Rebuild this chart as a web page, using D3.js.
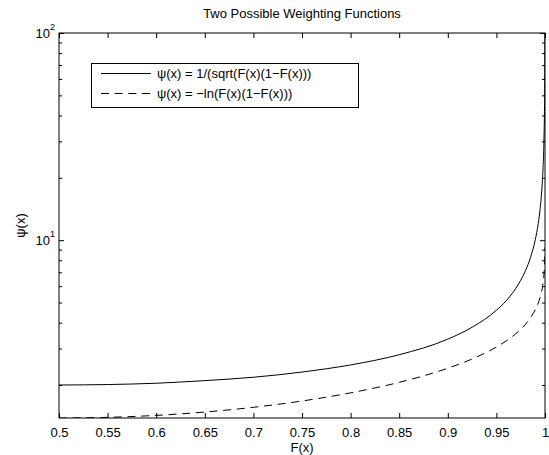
<!DOCTYPE html>
<html>
<head>
<meta charset="utf-8">
<script src="https://cdn.jsdelivr.net/npm/d3@7"></script>
<style>
  body { margin: 0; background: #fff; }
  svg { display: block; font-family: "Liberation Sans", Arial, sans-serif; }
  .domain { display: none; }
  .tick line { stroke: #000; }
  .tick text { font-size: 13px; fill: #000; }
</style>
</head>
<body>
<div id="chart"></div>
<script>
// values
const fValues = [0.5, 0.55, 0.6, 0.65, 0.7, 0.75, 0.8, 0.85, 0.9, 0.925, 0.95, 0.96, 0.97, 0.98,
  0.985, 0.99, 0.993, 0.995, 0.997, 0.998, 0.999, 0.9995, 0.9998, 0.9999];
const psiSqrt = [2.0, 2.01, 2.04, 2.10, 2.18, 2.31, 2.5, 2.8, 3.33, 3.8, 4.59, 5.1, 5.86, 7.14,
  8.23, 10.05, 12.0, 14.2, 18.3, 22.4, 31.6, 44.7, 70.7, 100];
const psiLog = [1.386, 1.396, 1.427, 1.481, 1.561, 1.674, 1.833, 2.06, 2.41, 2.67, 3.05, 3.26, 3.54, 3.93,
  4.22, 4.62, 4.97, 5.3, 5.81, 6.22, 6.91, 7.6, 8.52, 9.21];
const xTicks = [0.5, 0.55, 0.6, 0.65, 0.7, 0.75, 0.8, 0.85, 0.9, 0.95, 1];
const yMajor = [10, 100];
const yMinor = [2, 3, 4, 5, 6, 7, 8, 9, 20, 30, 40, 50, 60, 70, 80, 90];
const legendLabels = ['\u03c8(x) = 1/(sqrt(F(x)(1\u2212F(x)))', '\u03c8(x) = \u2212ln(F(x)(1\u2212F(x)))'];

const width = 549, height = 455;
const margin = { top: 33, right: 4, bottom: 37, left: 59 };
const dash = '8,5.7';

const svg = d3.select('#chart').append('svg')
  .attr('width', width).attr('height', height);

const x = d3.scaleLinear().domain([0.5, 1]).range([margin.left, width - margin.right]);
const y = d3.scaleLog().domain([1.386, 100]).range([height - margin.bottom, margin.top]);

// curves
const line = (vals) => d3.line()
  .x((d, i) => x(fValues[i]))
  .y((d) => y(d))
  .curve(d3.curveMonotoneX)(vals);

svg.append('clipPath').attr('id', 'clip').append('rect')
  .attr('x', margin.left).attr('y', margin.top)
  .attr('width', x(1) - x(0.5)).attr('height', y(1.386) - y(100));

const plot = svg.append('g').attr('clip-path', 'url(#clip)');
plot.append('path').attr('d', line(psiSqrt))
  .attr('fill', 'none').attr('stroke', '#000').attr('stroke-width', 1);
plot.append('path').attr('d', line(psiLog))
  .attr('fill', 'none').attr('stroke', '#000').attr('stroke-width', 1)
  .attr('stroke-dasharray', dash);

// x axes (bottom with labels, top ticks only)
svg.append('g')
  .attr('transform', `translate(0,${y(1.386)})`)
  .call(d3.axisBottom(x).tickValues(xTicks).tickSizeInner(-5).tickSizeOuter(0).tickPadding(10)
    .tickFormat(d3.format('')));
svg.append('g')
  .attr('transform', `translate(0,${y(100)})`)
  .call(d3.axisTop(x).tickValues(xTicks).tickSizeInner(-5).tickSizeOuter(0).tickFormat(''));

// y axes
svg.append('g').attr('transform', `translate(${x(0.5)},0)`)
  .call(d3.axisLeft(y).tickValues(yMinor).tickSizeInner(-3).tickSizeOuter(0).tickFormat(''));
svg.append('g').attr('transform', `translate(${x(0.5)},0)`)
  .call(d3.axisLeft(y).tickValues(yMajor).tickSizeInner(-5).tickSizeOuter(0).tickFormat(''));
svg.append('g').attr('transform', `translate(${x(1)},0)`)
  .call(d3.axisRight(y).tickValues(yMinor).tickSizeInner(-3).tickSizeOuter(0).tickFormat(''));
svg.append('g').attr('transform', `translate(${x(1)},0)`)
  .call(d3.axisRight(y).tickValues(yMajor).tickSizeInner(-5).tickSizeOuter(0).tickFormat(''));

// y major labels as 10^n
yMajor.forEach((v) => {
  const t = svg.append('text')
    .attr('x', x(0.5) - 4).attr('y', y(v) + 5)
    .attr('text-anchor', 'end').attr('font-size', 13);
  t.append('tspan').text('10');
  t.append('tspan').attr('dy', -8).attr('font-size', 9).text(Math.round(Math.log10(v)));
});

// box
svg.append('rect')
  .attr('x', x(0.5)).attr('y', y(100))
  .attr('width', x(1) - x(0.5)).attr('height', y(1.386) - y(100))
  .attr('fill', 'none').attr('stroke', '#000').attr('stroke-width', 1);

// titles
svg.append('text').attr('x', (x(0.5) + x(1)) / 2).attr('y', 18)
  .attr('text-anchor', 'middle').attr('font-size', 13).text('Two Possible Weighting Functions');
svg.append('text').attr('x', (x(0.5) + x(1)) / 2).attr('y', 452)
  .attr('text-anchor', 'middle').attr('font-size', 13).text('F(x)');
svg.append('text')
  .attr('transform', `translate(25,${(y(1.386) + y(100)) / 2}) rotate(-90)`)
  .attr('text-anchor', 'middle').attr('font-size', 13).text('\u03c8(x)');

// legend
const legend = svg.append('g');
legend.append('rect').attr('x', 91.5).attr('y', 63.5).attr('width', 267).attr('height', 44)
  .attr('fill', '#fff').attr('stroke', '#000').attr('stroke-width', 1);
legendLabels.forEach((label, i) => {
  const ly = 73.5 + i * 20;
  legend.append('line').attr('x1', 101).attr('x2', 151).attr('y1', ly).attr('y2', ly)
    .attr('stroke', '#000').attr('stroke-dasharray', i === 1 ? dash : null);
  legend.append('text').attr('x', 157).attr('y', ly + 4.5).attr('font-size', 13).text(label);
});
</script>
</body>
</html>
